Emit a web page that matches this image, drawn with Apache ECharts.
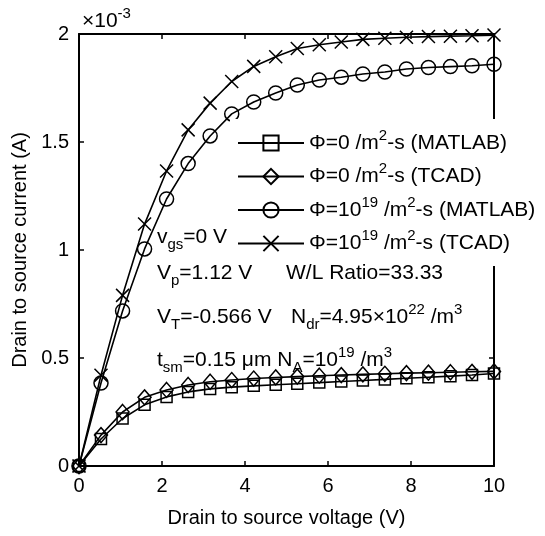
<!DOCTYPE html>
<html>
<head>
<meta charset="utf-8">
<script src="https://cdn.jsdelivr.net/npm/echarts@6/dist/echarts.min.js"></script>
<style>
html,body{margin:0;padding:0;background:#fff;}
#chart{width:545px;height:536px;}
</style>
</head>
<body>
<div id="chart"></div>
<script>
// Drain-source voltage (V)
const voltage = [0, 0.53, 1.05, 1.58, 2.11, 2.63, 3.16, 3.68, 4.21, 4.74, 5.26, 5.79, 6.32, 6.84, 7.37, 7.89, 8.42, 8.95, 9.47, 10];
// Drain-source current (x10^-3 A)
const matlabDark = [0, 0.125, 0.22, 0.283, 0.32, 0.343, 0.357, 0.365, 0.371, 0.376, 0.381, 0.386, 0.391, 0.396, 0.401, 0.406, 0.411, 0.416, 0.421, 0.428];
const tcadDark = [0, 0.143, 0.25, 0.318, 0.352, 0.375, 0.39, 0.398, 0.405, 0.41, 0.414, 0.418, 0.421, 0.424, 0.427, 0.43, 0.432, 0.434, 0.436, 0.438];
const matlabLight = [0, 0.384, 0.718, 1.005, 1.236, 1.40, 1.528, 1.63, 1.685, 1.727, 1.764, 1.787, 1.80, 1.815, 1.824, 1.838, 1.845, 1.849, 1.853, 1.86];
const tcadLight = [0, 0.42, 0.79, 1.12, 1.366, 1.556, 1.68, 1.78, 1.85, 1.895, 1.933, 1.95, 1.963, 1.975, 1.98, 1.985, 1.988, 1.99, 1.992, 1.995];
const seriesNames = ['Φ=0 /m2-s (MATLAB)', 'Φ=0 /m2-s (TCAD)', 'Φ=1019 /m2-s (MATLAB)', 'Φ=1019 /m2-s (TCAD)'];
const legendRich = [
  '{b|Φ=0 /m}{sup|2}{b|-s (MATLAB)}',
  '{b|Φ=0 /m}{sup|2}{b|-s (TCAD)}',
  '{b|Φ=10}{sup|19}{b| /m}{sup|2}{b|-s (MATLAB)}',
  '{b|Φ=10}{sup|19}{b| /m}{sup|2}{b|-s (TCAD)}'
];
const xTicks = [0, 2, 4, 6, 8, 10];
const yTicks = [0, 0.5, 1, 1.5, 2];

const FONT = '"Liberation Sans", Arial, sans-serif';
const FS = 20;
const FT = 21;
const rich = {
  b: {fontSize: FT, fontFamily: FONT, lineHeight: 30, color: '#000'},
  sup: {fontSize: 15, fontFamily: FONT, lineHeight: 12, verticalAlign: 'top', color: '#000'},
  sub: {fontSize: 15, fontFamily: FONT, lineHeight: 10, verticalAlign: 'bottom', color: '#000'}
};

function pairs(arr) { return voltage.map((v, i) => [v, arr[i]]); }

const chart = echarts.init(document.getElementById('chart'), null, {renderer: 'canvas'});

function mkSeries(name, data, symbol, size) {
  return {
    name: name,
    type: 'line',
    data: pairs(data),
    symbol: symbol,
    symbolSize: size,
    showAllSymbol: true,
    animation: false,
    lineStyle: {color: '#000', width: 1.6},
    itemStyle: {color: 'rgba(0,0,0,0)', borderColor: '#000', borderWidth: 1.5},
    emphasis: {disabled: true}
  };
}

const axisCommon = {
  type: 'value',
  axisLine: {show: true, onZero: false, lineStyle: {color: '#000', width: 2}},
  axisTick: {show: true, inside: true, length: 5, lineStyle: {color: '#000', width: 1.5}},
  splitLine: {show: false}
};

const option = {
  backgroundColor: '#fff',
  animation: false,
  grid: {left: 79, right: 51, top: 34, bottom: 70},
  xAxis: [
    Object.assign({}, axisCommon, {
      position: 'bottom', min: 0, max: 10, interval: 2,
      axisLabel: {color: '#000', fontSize: FS, fontFamily: FONT, margin: 10},
      name: 'Drain to source voltage (V)', nameLocation: 'middle', nameGap: 42,
      nameTextStyle: {color: '#000', fontSize: FS, fontFamily: FONT}
    }),
    Object.assign({}, axisCommon, {
      position: 'top', min: 0, max: 10, interval: 2, axisLabel: {show: false}
    })
  ],
  yAxis: [
    Object.assign({}, axisCommon, {
      position: 'left', min: 0, max: 2, interval: 0.5,
      axisLabel: {color: '#000', fontSize: FS, fontFamily: FONT, margin: 10,
        formatter: v => String(v)},
      name: 'Drain to source current (A)', nameLocation: 'middle', nameGap: 47,
      nameTextStyle: {color: '#000', fontSize: FS, fontFamily: FONT}
    }),
    Object.assign({}, axisCommon, {
      position: 'right', min: 0, max: 2, interval: 0.5, axisLabel: {show: false}
    })
  ],
  legend: {
    orient: 'vertical',
    left: 230, top: 119,
    padding: [9, 10, 12, 7],
    backgroundColor: '#fff',
    itemWidth: 66, itemHeight: 19, itemGap: 8,
    data: seriesNames,
    formatter: name => legendRich[seriesNames.indexOf(name)],
    textStyle: {color: '#000', fontSize: FT, fontFamily: FONT, rich: rich},
    selectedMode: false
  },
  series: [
    mkSeries(seriesNames[0], matlabDark, 'rect', 11),
    mkSeries(seriesNames[1], tcadDark, 'diamond', [13, 15]),
    mkSeries(seriesNames[2], matlabLight, 'circle', 14),
    mkSeries(seriesNames[3], tcadLight, 'path://M0,0L10,10M10,0L0,10', 13)
  ],
  graphic: [
    {type: 'text', x: 82, y: 21, z: 10, style: {text: '{b|×10}{sup|-3}', rich: rich, verticalAlign: 'middle', align: 'left'}},
    {type: 'text', x: 157, y: 237, z: 10, style: {text: '{b|v}{sub|gs}{b|=0 V}', rich: rich, verticalAlign: 'middle', align: 'left'}},
    {type: 'text', x: 157, y: 273, z: 10, style: {text: '{b|V}{sub|p}{b|=1.12 V}', rich: rich, verticalAlign: 'middle', align: 'left'}},
    {type: 'text', x: 286, y: 273, z: 10, style: {text: '{b|W/L Ratio=33.33}', rich: rich, verticalAlign: 'middle', align: 'left'}},
    {type: 'text', x: 157, y: 317, z: 10, style: {text: '{b|V}{sub|T}{b|=-0.566 V}', rich: rich, verticalAlign: 'middle', align: 'left'}},
    {type: 'text', x: 291, y: 317, z: 10, style: {text: '{b|N}{sub|dr}{b|=4.95×10}{sup|22}{b| /m}{sup|3}', rich: rich, verticalAlign: 'middle', align: 'left'}},
    {type: 'text', x: 157, y: 360, z: 10, style: {text: '{b|t}{sub|sm}{b|=0.15 μm N}{sub|A}{b|=10}{sup|19}{b| /m}{sup|3}', rich: rich, verticalAlign: 'middle', align: 'left'}}
  ]
};
chart.setOption(option);
</script>
</body>
</html>
